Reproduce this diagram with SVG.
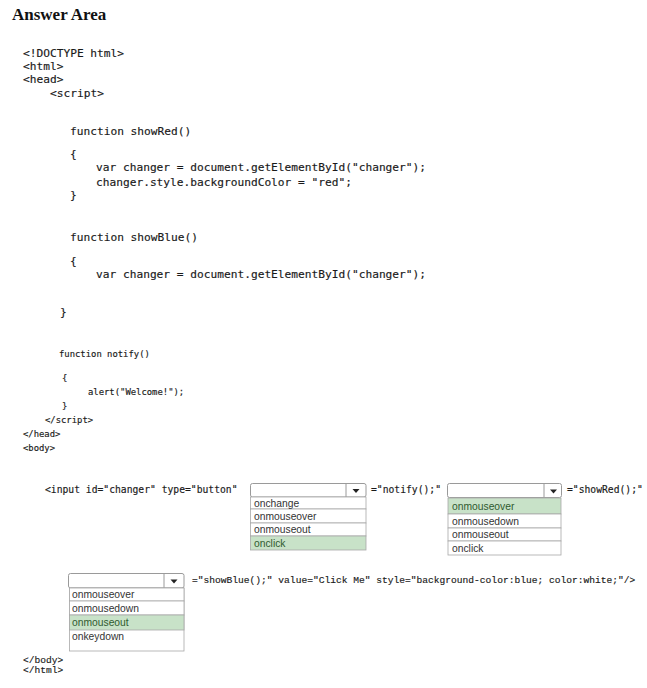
<svg xmlns="http://www.w3.org/2000/svg" width="647" height="688" viewBox="0 0 647 688">
<style>
.title{font-family:"Liberation Serif",serif;font-weight:bold;font-size:17px;fill:#111}
.c{font-family:"DejaVu Sans Mono",monospace;font-size:11.2px;fill:#1a1a1a;stroke:#1a1a1a;stroke-width:0.15}
.s{font-family:"DejaVu Sans Mono",monospace;font-size:8.9px;fill:#1a1a1a;stroke:#1a1a1a;stroke-width:0.15}
.i{font-family:"DejaVu Sans Mono",monospace;font-size:9.7px;fill:#1a1a1a;stroke:#1a1a1a;stroke-width:0.15}
.m{font-family:"Liberation Mono",monospace;font-size:9.6px;fill:#1a1a1a;stroke:#1a1a1a;stroke-width:0.15}
.box{fill:#fff;stroke:#9a9a9a;stroke-width:1}
.sep{stroke:#9a9a9a;stroke-width:1}
.row{fill:#fff;stroke:#a8a8a8;stroke-width:0.8}
.sel{fill:#c8e2c8;stroke:#a8a8a8;stroke-width:0.8}
.opt{font-family:"Liberation Sans",sans-serif;font-size:10.3px;fill:#333}
.optg{font-family:"Liberation Sans",sans-serif;font-size:10.3px;fill:#2f5a2f}
.arr{fill:#222}
</style>
<rect width="647" height="688" fill="#fff"/>
<text class="title" x="12" y="20">Answer Area</text>

<g id="code">
<text class="c" x="23" y="57">&lt;!DOCTYPE html&gt;</text>
<text class="c" x="23" y="70">&lt;html&gt;</text>
<text class="c" x="23" y="83">&lt;head&gt;</text>
<text class="c" x="50" y="97">&lt;script&gt;</text>
<text class="c" x="70" y="135">function showRed()</text>
<text class="c" x="70" y="158">{</text>
<text class="c" x="96" y="171">var changer = document.getElementById("changer");</text>
<text class="c" x="96" y="186">changer.style.backgroundColor = "red";</text>
<text class="c" x="70" y="199">}</text>
<text class="c" x="70" y="241">function showBlue()</text>
<text class="c" x="70" y="265">{</text>
<text class="c" x="96" y="278">var changer = document.getElementById("changer");</text>
<text class="c" x="60" y="316">}</text>
<text class="s" x="59" y="357">function notify()</text>
<text class="s" x="62" y="381">{</text>
<text class="s" x="88" y="395">alert("Welcome!");</text>
<text class="s" x="62" y="409">}</text>
<text class="s" x="45" y="423">&lt;/script&gt;</text>
<text class="s" x="23" y="437">&lt;/head&gt;</text>
<text class="s" x="23" y="451">&lt;body&gt;</text>
<text class="i" x="45" y="493">&lt;input id="changer" type="button"</text>
<text class="i" x="371" y="493">="notify();"</text>
<text class="i" x="567" y="493">="showRed();"</text>
<text class="m" x="192" y="583">="showBlue();" value="Click Me" style="background-color:blue; color:white;"/&gt;</text>
<text class="m" x="23" y="663">&lt;/body&gt;</text>
<text class="m" x="23" y="673">&lt;/html&gt;</text>
</g>

<g id="dropdown1">
<rect class="box" x="250.5" y="483.5" width="115.5" height="13.5" rx="2"/>
<line class="sep" x1="346" y1="483.5" x2="346" y2="497"/>
<path class="arr" d="M352.5 489 L359.5 489 L356 493 Z"/>
<rect class="row" x="250.5" y="497" width="115.5" height="12"/>
<rect class="row" x="250.5" y="509" width="115.5" height="14"/>
<rect class="row" x="250.5" y="523" width="115.5" height="13"/>
<rect class="sel" x="250.5" y="536" width="115.5" height="14"/>
<text class="opt" x="254" y="506.5">onchange</text>
<text class="opt" x="254" y="519.5">onmouseover</text>
<text class="opt" x="254" y="533">onmouseout</text>
<text class="optg" x="254" y="546.5">onclick</text>
</g>

<g id="dropdown2">
<rect class="box" x="447.5" y="483.5" width="114" height="14" rx="2"/>
<line class="sep" x1="544" y1="483.5" x2="544" y2="497.5"/>
<path class="arr" d="M550 489.5 L557 489.5 L553.5 493.5 Z"/>
<rect class="sel" x="448" y="498" width="113" height="16"/>
<rect class="row" x="448" y="514" width="113" height="14"/>
<rect class="row" x="448" y="528" width="113" height="13"/>
<rect class="row" x="448" y="541" width="113" height="14"/>
<text class="optg" x="452" y="510">onmouseover</text>
<text class="opt" x="452" y="524.5">onmousedown</text>
<text class="opt" x="452" y="538">onmouseout</text>
<text class="opt" x="452" y="552">onclick</text>
</g>

<g id="dropdown3">
<rect class="box" x="68.5" y="573.5" width="115.5" height="14.5" rx="2"/>
<line class="sep" x1="164" y1="573.5" x2="164" y2="588"/>
<path class="arr" d="M170.5 579.5 L177.5 579.5 L174 583.5 Z"/>
<rect class="row" x="69.5" y="588" width="114.5" height="63"/>
<rect class="row" x="69.5" y="588" width="114.5" height="13"/>
<rect class="row" x="69.5" y="601" width="114.5" height="14"/>
<rect class="sel" x="69.5" y="615" width="114.5" height="15"/>
<text class="opt" x="72" y="598">onmouseover</text>
<text class="opt" x="72" y="612">onmousedown</text>
<text class="optg" x="72" y="626">onmouseout</text>
<text class="opt" x="72" y="640">onkeydown</text>
</g>
</svg>
